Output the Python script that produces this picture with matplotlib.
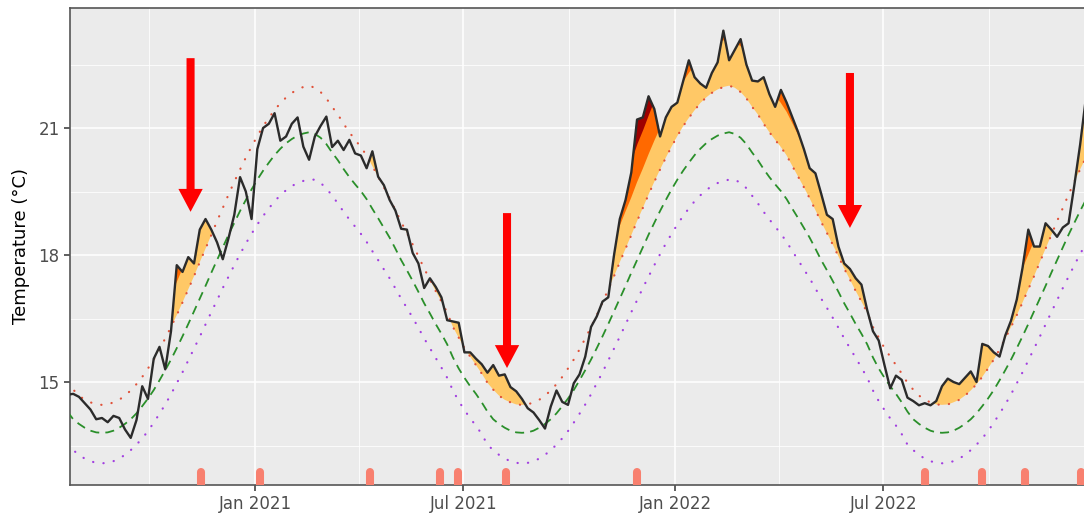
import numpy as np
import pandas as pd
import matplotlib
matplotlib.use("Agg")
import matplotlib.pyplot as plt
import matplotlib.dates as mdates

# SST every 5 days starting 2020-07-22
start = "2020-07-22"
temp = [14.70, 14.72, 14.65, 14.50, 14.35, 14.12, 14.15, 14.05, 14.20, 14.15,
        13.88, 13.68, 14.10, 14.90, 14.60, 15.55, 15.83, 15.30, 16.20, 17.76,
        17.60, 17.95, 17.80, 18.60, 18.85, 18.60, 18.30, 17.90, 18.40, 18.95,
        19.84, 19.50, 18.85, 20.50, 21.00, 21.10, 21.35, 20.70, 20.80, 21.10,
        21.25, 20.56, 20.25, 20.80, 21.05, 21.27, 20.55, 20.70, 20.48, 20.72,
        20.40, 20.35, 20.05, 20.45, 19.85, 19.65, 19.30, 19.05, 18.62, 18.60,
        18.05, 17.80, 17.22, 17.45, 17.25, 17.00, 16.46, 16.43, 16.40, 15.70,
        15.70, 15.55, 15.42, 15.22, 15.40, 15.15, 15.18, 14.88, 14.78, 14.60,
        14.38, 14.28, 14.10, 13.90, 14.42, 14.80, 14.53, 14.46, 14.97, 15.18,
        15.60, 16.30, 16.55, 16.90, 17.00, 18.00, 18.85, 19.30, 19.95, 21.20,
        21.25, 21.75, 21.45, 20.80, 21.25, 21.50, 21.60, 22.10, 22.60, 22.20,
        22.05, 21.95, 22.30, 22.55, 23.30, 22.60, 22.85, 23.10, 22.50, 22.12,
        22.10, 22.20, 21.80, 21.50, 21.90, 21.60, 21.25, 20.90, 20.50, 20.05,
        19.93, 19.45, 18.95, 18.85, 18.20, 17.80, 17.67, 17.45, 17.30, 16.70,
        16.20, 15.98, 15.40, 14.85, 15.15, 15.05, 14.63, 14.55, 14.45, 14.50,
        14.45, 14.55, 14.90, 15.08, 15.00, 14.95, 15.10, 15.25, 15.00, 15.90,
        15.85, 15.70, 15.60, 16.10, 16.45, 16.95, 17.70, 18.60, 18.20, 18.20,
        18.75, 18.60, 18.43, 18.65, 18.75, 19.65, 20.60, 21.70]

# climatology, one year in 5-day steps from 22 Jul
seas_year = [14.30, 14.12, 14.01, 13.92, 13.85, 13.81, 13.80, 13.81, 13.85, 13.92,
             14.01, 14.12, 14.26, 14.43, 14.61, 14.81, 15.04, 15.28, 15.53, 15.80,
             16.08, 16.37, 16.67, 16.97, 17.27, 17.58, 17.88, 18.18, 18.48, 18.76,
             19.04, 19.30, 19.55, 19.78, 19.99, 20.18, 20.36, 20.51, 20.64, 20.74,
             20.82, 20.87, 20.90, 20.86, 20.77, 20.62, 20.42, 20.24, 20.03, 19.84,
             19.67, 19.51, 19.32, 19.09, 18.87, 18.64, 18.41, 18.15, 17.88, 17.64,
             17.39, 17.13, 16.86, 16.62, 16.37, 16.14, 15.89, 15.58, 15.32, 15.10,
             14.90, 14.72, 14.52]
thresh_year = [14.98, 14.82, 14.68, 14.58, 14.52, 14.47, 14.46, 14.47, 14.52, 14.58,
               14.68, 14.80, 14.95, 15.12, 15.32, 15.53, 15.77, 16.03, 16.30, 16.58,
               16.88, 17.19, 17.50, 17.83, 18.15, 18.47, 18.80, 19.11, 19.43, 19.73,
               20.02, 20.30, 20.56, 20.81, 21.04, 21.24, 21.42, 21.59, 21.72, 21.83,
               21.91, 21.97, 22.00, 21.95, 21.85, 21.70, 21.50, 21.32, 21.10, 20.90,
               20.72, 20.55, 20.35, 20.10, 19.85, 19.60, 19.34, 19.06, 18.78, 18.52,
               18.25, 17.97, 17.68, 17.42, 17.15, 16.90, 16.64, 16.30, 16.05, 15.80,
               15.60, 15.40, 15.20]
lower_year = [13.52, 13.39, 13.28, 13.19, 13.13, 13.09, 13.08, 13.09, 13.13, 13.19,
              13.28, 13.39, 13.52, 13.67, 13.84, 14.04, 14.25, 14.47, 14.71, 14.97,
              15.23, 15.51, 15.79, 16.07, 16.36, 16.65, 16.93, 17.22, 17.49, 17.76,
              18.02, 18.27, 18.50, 18.72, 18.92, 19.10, 19.27, 19.41, 19.53, 19.63,
              19.70, 19.75, 19.78, 19.78, 19.70, 19.58, 19.40, 19.22, 19.02, 18.84,
              18.67, 18.50, 18.31, 18.09, 17.88, 17.66, 17.45, 17.21, 16.97, 16.75,
              16.52, 16.28, 16.03, 15.80, 15.57, 15.34, 15.10, 14.80, 14.55, 14.34,
              14.14, 13.97, 13.77]

# event peaks
peak_dates = ["2020-11-15", "2021-01-05", "2021-04-11", "2021-06-11", "2021-06-26",
              "2021-08-07", "2021-11-29", "2022-08-06", "2022-09-25", "2022-11-01",
              "2022-12-20"]

# highlighted events
arrow_dates = ["2020-11-06", "2021-08-08", "2022-06-02"]
arrow_top = [22.65, 18.99, 22.30]
arrow_tip = [19.02, 15.33, 18.64]

dates = pd.date_range(start, periods=len(temp), freq="5D")
temp = np.array(temp)
seas = np.resize(seas_year, len(temp))
thresh = np.resize(thresh_year, len(temp))
lower = np.resize(lower_year, len(temp))
diff = thresh - seas
thresh_2x = thresh + diff
thresh_3x = thresh_2x + diff

fig = plt.figure(figsize=(10.84, 5.14), dpi=100)
ax = fig.add_axes([70 / 1084, 1 - 485 / 514, 1 - 70 / 1084, 477 / 514])
ax.set_facecolor("#EBEBEB")

# flames by category
ax.fill_between(dates, thresh, temp, where=temp > thresh, interpolate=True,
                color="#ffc866", lw=0, zorder=2)
ax.fill_between(dates, thresh_2x, temp, where=temp > thresh_2x, interpolate=True,
                color="#ff6900", lw=0, zorder=2)
ax.fill_between(dates, thresh_3x, temp, where=temp > thresh_3x, interpolate=True,
                color="#9e0000", lw=0, zorder=2)

ax.plot(dates, lower, color="#a23fe0", lw=1.6, ls=(0, (0.1, 4.6)),
        dash_capstyle="round", zorder=3)
ax.plot(dates, thresh, color="#e0523a", lw=1.6, ls=(0, (0.1, 4.6)),
        dash_capstyle="round", zorder=3)
ax.plot(dates, seas, color="#2a8f2a", lw=1.3, ls=(0, (5.0, 3.4)), zorder=3)
ax.plot(dates, temp, color="#2b2b2b", lw=1.7, zorder=4)

# event peak ticks along the bottom
for d in pd.to_datetime(peak_dates):
    ax.plot([d, d], [12.2, 12.87], color="#f8806f", lw=5.8,
            solid_capstyle="round", zorder=3)

for d, y0, y1 in zip(pd.to_datetime(arrow_dates), arrow_top, arrow_tip):
    ax.annotate("", xy=(d, y1), xytext=(d, y0),
                arrowprops=dict(arrowstyle="simple,head_width=17.5,head_length=16.5,tail_width=5.8",
                                mutation_scale=1, color="#ff0000", lw=0,
                                shrinkA=0, shrinkB=0), zorder=5)

x0 = mdates.date2num(pd.Timestamp("2021-01-01"))
ax.set_xlim(x0 - 160.77, x0 + 720.4)
ax.set_ylim(12.567, 23.835)

ax.xaxis.set_major_locator(mdates.MonthLocator(bymonth=[1, 7]))
ax.xaxis.set_minor_locator(mdates.MonthLocator(bymonth=[4, 10]))
ax.xaxis.set_major_formatter(mdates.DateFormatter("%b %Y"))
ax.set_yticks([15, 18, 21])
ax.set_yticks([13.5, 16.5, 19.5, 22.5], minor=True)

ax.grid(which="major", color="white", lw=1.1)
ax.grid(which="minor", color="white", lw=0.55)
ax.set_axisbelow(True)

ax.tick_params(which="major", length=4, width=1.1, color="#333333",
               labelcolor="#4D4D4D", labelsize=12)
ax.tick_params(which="minor", length=0)
for side in ["left", "bottom", "top"]:
    ax.spines[side].set_color("#555555")
    ax.spines[side].set_linewidth(1.2)
ax.spines["right"].set_visible(False)

ax.set_ylabel("Temperature (°C)", fontsize=13, labelpad=6)

fig.savefig("out.png", dpi=100)
